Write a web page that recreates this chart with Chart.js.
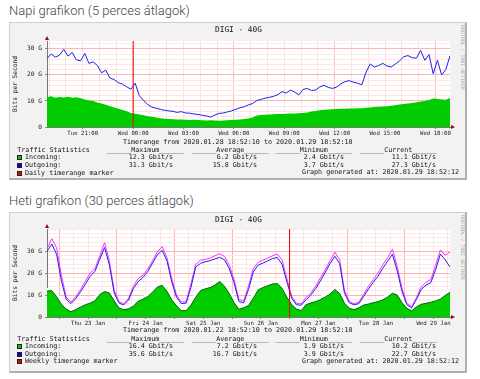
<!DOCTYPE html>
<html><head><meta charset="utf-8">
<script src="https://cdn.jsdelivr.net/npm/chart.js@4.4.1/dist/chart.umd.min.js"></script>
<style>
html,body{margin:0;padding:0;background:#fff;}
body{position:relative;width:480px;height:379px;overflow:hidden;}
.hd{position:absolute;left:9px;font-family:Roboto;font-weight:300;font-size:13px;color:#444;white-space:nowrap;line-height:1;}
.box{position:absolute;left:9px;width:458px;background:#f2f2f2;border:1px solid #cfcfcf;border-right:2px solid #b0b0b0;border-bottom:2px solid #b0b0b0;box-sizing:border-box;}
canvas{position:absolute;left:9px;}
.m{position:absolute;font-family:"DejaVu Sans Mono";font-size:6.7px;line-height:1;color:#111;white-space:pre;}
.ttl{position:absolute;font-family:"DejaVu Sans Mono";font-size:7.8px;line-height:1;color:#111;white-space:pre;}
.sq{position:absolute;width:3px;height:3px;border:1px solid #222;}
.v{position:absolute;font-family:"DejaVu Sans Mono";font-size:4.9px;color:#aaa;white-space:pre;transform-origin:0 0;transform:rotate(90deg);line-height:1}
</style></head><body>
<div class="hd" style="top:4px">Napi grafikon (5 perces átlagok)</div>
<div class="box" style="top:22px;height:158px"></div>
<canvas id="c1" width="458" height="158" style="top:22px"></canvas>
<div class="hd" style="top:194px">Heti grafikon (30 perces átlagok)</div>
<div class="box" style="top:212px;height:161px"></div>
<canvas id="c2" width="458" height="161" style="top:212px"></canvas>
<div id="txt"></div>
<script>
// ---------- DATA ----------
// Daily graph: hours since 2020-01-28 00:00, one value every 15 minutes (Gbit/s)
const dailyStart = 18 + 52/60 + 10/3600;
const dailyStepHours = 0.25;
const dailyIncoming = [11.4,11.8,11.2,11.5,11.3,11.6,11.2,11.4,11.0,10.6,
 10.2,10.0,9.4,9.0,8.5,8.0,7.5,7.0,6.5,6.0,
 5.4,5.1,4.8,4.5,4.1,3.9,3.6,3.4,3.2,3.1,
 3.0,2.9,2.9,2.8,2.7,2.8,2.7,2.6,2.5,2.6,
 2.5,2.4,2.5,2.6,2.7,2.8,2.9,3.1,3.3,3.6,
 4.4,4.6,4.7,4.8,4.9,5.0,5.0,5.1,5.2,5.2,
 5.3,5.4,5.6,5.9,6.1,6.4,6.6,6.7,6.8,6.9,
 7.0,7.0,7.1,7.1,7.2,7.2,7.4,7.5,7.7,7.8,
 7.9,8.0,8.2,8.3,8.6,8.8,9.0,9.2,9.5,9.8,
 10.0,10.4,10.9,10.7,10.6,10.5,11.1];
const dailyOutgoing = [26.3,28.0,26.8,27.6,29.8,27.2,28.6,25.8,25.4,28.2,
 24.4,25.0,23.6,20.8,21.8,18.8,18.2,17.0,16.4,15.4,
 14.5,16.8,12.0,10.2,8.6,7.6,7.2,6.8,6.4,6.2,
 6.0,5.6,5.9,5.4,5.3,5.0,4.8,4.5,4.2,3.8,
 4.6,5.2,5.4,5.8,6.2,6.8,7.4,7.8,8.5,9.0,
 10.2,10.6,11.1,11.4,11.8,12.4,13.6,13.0,14.2,13.4,
 12.3,14.4,14.8,14.0,14.2,15.4,16.0,15.2,14.8,15.3,
 16.6,17.4,17.8,17.2,16.8,16.2,21.0,24.2,23.0,23.6,
 24.4,23.4,23.0,24.2,25.4,27.0,27.4,26.6,26.4,29.4,
 25.6,27.8,20.4,25.6,20.0,22.0,27.3];
const dailyMarkerHour = 24;             // Wed 00:00
const dailyTickHours = [21,24,27,30,33,36,39,42];
const dailyTickLabels = ['Tue 21:00','Wed 00:00','Wed 03:00','Wed 06:00','Wed 09:00','Wed 12:00','Wed 15:00','Wed 18:00'];
const dailyYMax = 33;

// Weekly graph: hours since 2020-01-22 00:00, one value every 2 hours (Gbit/s)
const weeklyStart = 18 + 52/60 + 10/3600;
const weeklyStepHours = 2;
const weeklyIncoming = [11.8,12.0,9.2,5.8,3.6,2.4,3.4,4.5,5.6,6.3,
 7.4,10.2,11.6,10.9,7.4,4.1,3.3,3.7,4.9,7.2,
 8.1,9.3,11.3,13.6,14.4,11.7,7.8,5.1,2.9,2.9,
 5.4,9.0,12.0,12.8,13.4,14.5,16.2,14.0,10.6,6.5,
 3.5,4.2,5.2,8.5,12.3,13.4,14.2,15.0,15.2,13.0,
 9.0,5.6,3.6,2.9,5.6,6.4,7.0,7.9,9.1,10.4,
 12.5,10.7,6.3,4.0,3.3,4.2,5.4,5.9,6.5,7.0,
 7.8,9.1,10.8,10.0,6.5,4.0,2.8,4.6,5.8,6.2,
 6.7,7.3,8.2,9.8,11.2];
const weeklyOutgoing = [29.8,33.2,28.5,16.5,8.0,6.1,8.4,11.5,14.9,18.5,
 20.8,26.3,31.6,23.7,11.0,6.3,5.5,7.7,12.9,16.1,
 18.0,20.6,24.5,28.3,30.3,25.6,16.0,9.0,6.1,6.3,
 13.5,22.7,24.4,25.1,25.6,26.4,27.1,26.0,22.0,15.5,
 7.0,6.5,12.5,20.5,23.6,24.5,25.5,26.6,27.0,24.0,
 16.0,8.5,5.5,5.4,7.8,10.0,12.9,16.4,20.3,24.3,
 27.6,24.3,11.0,6.5,5.5,6.1,9.3,12.7,15.8,18.5,
 22.2,25.4,28.5,21.0,11.7,5.6,4.1,8.0,12.5,14.5,
 15.6,21.5,28.6,26.0,22.7];
const weeklyOutgoingMax = [31.0,35.6,31.5,19.0,9.0,6.8,9.2,12.5,16.2,20.0,
 22.0,27.8,33.8,25.5,12.2,7.0,6.0,8.5,14.0,17.5,
 19.0,21.8,25.6,29.6,32.0,27.0,17.5,10.0,6.8,7.0,
 15.0,24.0,25.8,26.2,26.8,27.8,28.8,27.5,23.5,17.0,
 8.0,7.2,14.0,22.0,24.8,25.8,26.8,27.8,28.6,26.0,
 17.5,9.5,6.2,6.0,8.8,11.0,14.0,17.8,21.5,25.6,
 29.5,26.0,12.0,7.2,6.0,6.8,10.2,14.0,17.0,20.0,
 23.8,27.0,30.8,23.0,13.0,6.2,4.6,8.8,13.6,15.8,
 17.0,23.5,30.5,28.0,29.5];
const weeklyMarkerHour = 120;          // Mon 27 Jan 00:00
const weeklyTickHours = [36,60,84,108,132,156,180];
const weeklyTickLabels = ['Thu 23 Jan','Fri 24 Jan','Sat 25 Jan','Sun 26 Jan','Mon 27 Jan','Tue 28 Jan','Wed 29 Jan'];
const weeklyYMax = 40;

const yTickValues = [0,10,20,30];
const yTickLabels = ['0','10 G','20 G','30 G'];

const statHeaders = ['Maximum','Average','Minimum','Current'];
const dailyStatsIncoming = [12.3,6.2,2.4,11.1];
const dailyStatsOutgoing = [31.3,15.8,3.7,27.3];
const weeklyStatsIncoming = [16.4,7.2,1.9,10.2];
const weeklyStatsOutgoing = [35.6,16.7,3.9,22.7];

// ---------- RENDER ----------
const MONO = 'DejaVu Sans Mono';
const rrdPlugin = {
  id: 'rrd',
  beforeDraw(chart) {
    const {ctx, chartArea: a} = chart;
    ctx.save(); ctx.fillStyle = '#fff';
    ctx.fillRect(a.left, a.top, a.right - a.left, a.bottom - a.top);
    ctx.restore();
  },
  afterDraw(chart) {
    const {ctx, chartArea: a} = chart;
    ctx.save(); ctx.fillStyle = '#a00000';
    ctx.beginPath(); ctx.moveTo(a.left - 2, a.top - 1); ctx.lineTo(a.left + 2, a.top - 1); ctx.lineTo(a.left, a.top - 5); ctx.fill();
    ctx.beginPath(); ctx.moveTo(a.right + 1, a.bottom - 2); ctx.lineTo(a.right + 1, a.bottom + 2); ctx.lineTo(a.right + 5, a.bottom); ctx.fill();
    ctx.restore();
  }
};

function series(values, start, step) {
  return values.map((v, i) => ({x: start + i * step, y: v}));
}
function range(a, b, step) { const r = []; for (let i = 0; a + i * step <= b + 1e-9; i++) r.push(a + i * step); return r; }
const isY = v => yTickValues.indexOf(Math.round(v * 1000) / 1000) >= 0;

function makeChart(id, o) {
  return new Chart(document.getElementById(id), {
    type: 'line',
    data: {datasets: o.datasets},
    options: {
      responsive: false, animation: false, devicePixelRatio: 1, events: [],
      layout: {padding: {left: 0, right: 17, top: o.padTop, bottom: o.padBottom}},
      plugins: {legend: {display: false}, tooltip: {enabled: false}},
      elements: {point: {radius: 0}, line: {tension: 0}},
      scales: {
        x: {
          type: 'linear', min: o.xMin, max: o.xMax,
          afterBuildTicks: s => { s.ticks = o.xGrid.map(v => ({value: v})); },
          afterFit: s => { s.height = 12; },
          ticks: {autoSkip: false, maxRotation: 0, minRotation: 0, padding: 1, color: '#222',
                  font: {family: MONO, size: 5.7},
                  callback: v => { const k = o.xTickHours.indexOf(v); return k >= 0 ? o.xTickLabels[k] : ''; }},
          grid: {color: c => o.xGridColor(c.tick.value), lineWidth: 1, tickLength: 2,
                 tickColor: c => o.xTickHours.indexOf(c.tick.value) >= 0 || o.xMajor(c.tick.value) ? '#888' : 'rgba(0,0,0,0)'},
          border: {display: true, color: '#777'}
        },
        y: {
          min: 0, max: o.yMax,
          afterBuildTicks: s => { s.ticks = o.yGrid.map(v => ({value: v})); },
          afterFit: s => { s.width = 38; },
          ticks: {autoSkip: false, padding: 3, color: '#222', font: {family: MONO, size: 6.2},
                  callback: v => { const k = yTickValues.indexOf(Math.round(v)); return isY(v) ? yTickLabels[k] : ''; }},
          grid: {color: c => isY(c.tick.value) ? '#ffb4b4' : '#ffe6e6', lineWidth: 1, tickLength: 2,
                 tickColor: c => isY(c.tick.value) ? '#888' : 'rgba(0,0,0,0)'},
          border: {display: true, color: '#777'},
          title: {display: true, text: 'Bits per Second', color: '#222', font: {family: MONO, size: 6.2}, padding: {top: 3, bottom: 0}}
        }
      }
    },
    plugins: [rrdPlugin]
  });
}

const dEnd = dailyStart + dailyStepHours * (dailyOutgoing.length - 1);
makeChart('c1', {
  padTop: 19, padBottom: 158 - 105 - 12,
  xMin: dailyStart, xMax: dEnd, yMax: dailyYMax,
  xGrid: range(Math.ceil(dailyStart), Math.floor(dEnd), 1),
  xTickHours: dailyTickHours, xTickLabels: dailyTickLabels,
  xMajor: v => v % 6 === 0,
  xGridColor: v => v % 6 === 0 ? '#ffbcbc' : '#ffdede',
  yGrid: range(0, 32, 2),
  datasets: [
    {data: [{x: dailyMarkerHour, y: 0}, {x: dailyMarkerHour, y: dailyYMax}], borderColor: '#ee0000', borderWidth: 1, fill: false, order: 0},
    {data: series(dailyOutgoing, dailyStart, dailyStepHours), borderColor: '#2020f0', borderWidth: 1, fill: false, order: 1},
    {data: series(dailyIncoming, dailyStart, dailyStepHours), borderColor: '#00cc00', borderWidth: 0, backgroundColor: '#00cc00', fill: 'origin', order: 2}
  ]
});

const wEnd = weeklyStart + weeklyStepHours * (weeklyOutgoing.length - 1);
makeChart('c2', {
  padTop: 17, padBottom: 161 - 105 - 12,
  xMin: weeklyStart, xMax: wEnd, yMax: weeklyYMax,
  xGrid: range(Math.ceil(weeklyStart / 6) * 6, wEnd, 6),
  xTickHours: weeklyTickHours, xTickLabels: weeklyTickLabels,
  xMajor: v => v % 24 === 0,
  xGridColor: v => v % 24 === 0 ? '#ffb0b0' : '#ffe6e6',
  yGrid: range(0, 40, 2),
  datasets: [
    {data: [{x: weeklyMarkerHour, y: 0}, {x: weeklyMarkerHour, y: weeklyYMax}], borderColor: '#ee0000', borderWidth: 1, fill: false, order: 0},
    {data: series(weeklyOutgoing, weeklyStart, weeklyStepHours), borderColor: '#2020f0', borderWidth: 1, fill: false, order: 1},
    {data: series(weeklyOutgoingMax, weeklyStart, weeklyStepHours), borderColor: '#ff30ff', borderWidth: 1, fill: false, order: 2},
    {data: series(weeklyIncoming, weeklyStart, weeklyStepHours), borderColor: '#006600', borderWidth: 1, backgroundColor: '#00cc00', fill: 'origin', order: 3},
    {data: series(weeklyIncoming, weeklyStart, weeklyStepHours), borderColor: '#ffffff', borderWidth: 6, fill: false, order: 4}
  ]
});

// ---------- TEXT (HTML) ----------
const host = document.getElementById('txt');
function put(cls, text, x, y, align) {
  const e = document.createElement('div');
  e.className = cls; e.textContent = text;
  if (align === 'right') { e.style.left = (x - 200) + 'px'; e.style.width = '200px'; e.style.textAlign = 'right'; }
  else e.style.left = x + 'px';
  e.style.top = (y - 3.4) + 'px';
  host.appendChild(e); return e;
}
function square(color, x, y) {
  const e = document.createElement('div');
  e.className = 'sq'; e.style.background = color;
  e.style.left = x + 'px'; e.style.top = (y - 2.5) + 'px';
  host.appendChild(e);
}
function vert(top) {
  const e = document.createElement('div');
  e.className = 'v'; e.textContent = 'RRDTOOL / TOBI OETIKER';
  e.style.left = '465px'; e.style.top = top + 'px';
  host.appendChild(e);
}
function block(o) {
  put('ttl', 'DIGI - 40G', 215, o.yTitle);
  vert(o.yTitle - 4);
  put('m', 'Timerange from ' + o.from + ' to ' + o.to, 123, o.rows[0]);
  put('m', 'Traffic Statistics', 17.3, o.rows[1]);
  const hx = [107, 192, 275.5, 360];
  const vx = [173, 257, 344, 436];
  statHeaders.forEach((h, i) => put('m', '______' + h + '______', hx[i], o.rows[1]));
  square('#00cc00', 17, o.rows[2]);
  put('m', 'Incoming:', 25, o.rows[2]);
  square('#0000ff', 17, o.rows[3]);
  put('m', 'Outgoing:', 25, o.rows[3]);
  o.inc.forEach((v, i) => put('m', v.toFixed(1) + ' Gbit/s', vx[i], o.rows[2], 'right'));
  o.out.forEach((v, i) => put('m', v.toFixed(1) + ' Gbit/s', vx[i], o.rows[3], 'right'));
  square('#ee0000', 17, o.rows[4]);
  put('m', o.marker, 25, o.rows[4]);
  put('m', 'Graph generated at: 2020.01.29 18:52:12', 302, o.rows[4] - 0.8);
}
block({yTitle: 29, rows: [142.7, 150.7, 157.7, 165.7, 173.3], from: '2020.01.28 18:52:10', to: '2020.01.29 18:52:10',
       inc: dailyStatsIncoming, out: dailyStatsOutgoing, marker: 'Daily timerange marker'});
block({yTitle: 219, rows: [330.7, 339.0, 346.7, 354.3, 361.7], from: '2020.01.22 18:52:10', to: '2020.01.29 18:52:10',
       inc: weeklyStatsIncoming, out: weeklyStatsOutgoing, marker: 'Weekly timerange marker'});
</script>
</body></html>
